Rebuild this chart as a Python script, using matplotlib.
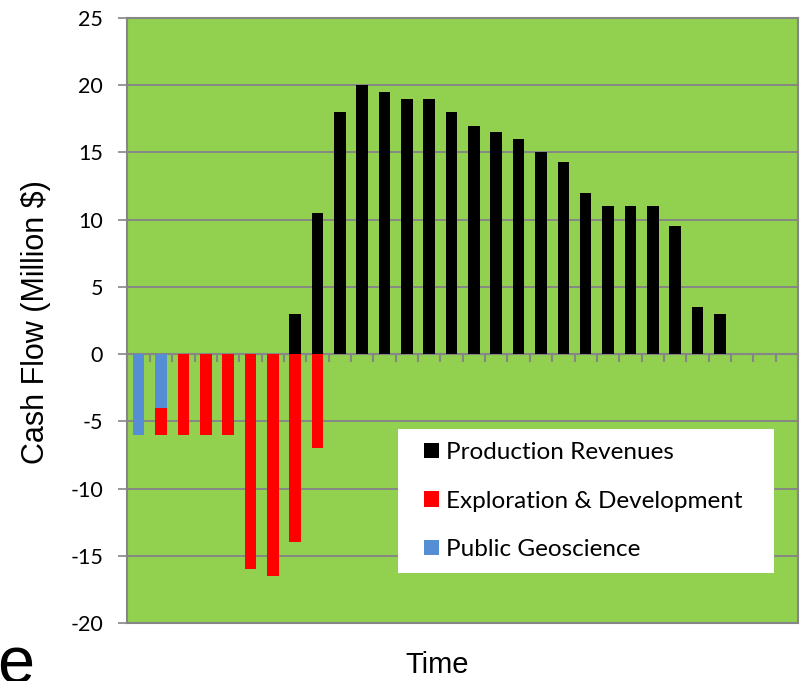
import matplotlib
matplotlib.use("Agg")
import matplotlib.pyplot as plt
from matplotlib.patches import Patch, Rectangle
import numpy as np

plt.rcParams["axes.unicode_minus"] = False

# Cash flow per period (million $)
periods = np.arange(1, 31)
public_geoscience = [-6, -4] + [0] * 28
exploration_development = [0, -2, -6, -6, -6, -16, -16.5, -14, -7] + [0] * 21
production_revenues = [0, 0, 0, 0, 0, 0, 0, 3, 10.5, 18, 20, 19.5, 19, 19, 18,
                       17, 16.5, 16, 15, 14.3, 12, 11, 11, 11, 9.5, 3.5, 3, 0, 0, 0]
y_ticks = [-20, -15, -10, -5, 0, 5, 10, 15, 20, 25]
series_labels = ["Production Revenues", "Exploration & Development", "Public Geoscience"]

GREEN = "#92D050"
GREY = "#868686"
BLUE = "#558ED5"
RED = "#FF0000"
BLACK = "#000000"

W, H = 800, 681
fig = plt.figure(figsize=(W / 100, H / 100), dpi=100)
left, right, top, bottom = 127.5, 798, 18, 623
ax = fig.add_axes([left / W, 1 - bottom / H, (right - left) / W, (bottom - top) / H])
ax.set_facecolor(GREEN)

bw = 0.52
ax.bar(periods, public_geoscience, width=bw, color=BLUE, zorder=3)
ax.bar(periods, exploration_development, width=bw, bottom=public_geoscience,
       color=RED, zorder=3)
ax.bar(periods, production_revenues, width=bw, color=BLACK, zorder=3)

ax.set_xlim(0.5, 30.5)
ax.set_ylim(-20, 25)
ax.set_yticks(y_ticks)
ax.set_yticklabels([str(v) for v in y_ticks], fontfamily="Lato", fontsize=15.5)
ax.yaxis.grid(True, color=GREY, linewidth=1.4, zorder=1)
ax.set_axisbelow(True)
ax.tick_params(axis="y", direction="out", length=6.5, width=1.2, color=GREY, pad=11)

# category axis crosses at zero
ax.spines["bottom"].set_position(("data", 0))
ax.set_xticks(np.arange(0.5, 31.5, 1))
ax.set_xticklabels([])
ax.tick_params(axis="x", direction="out", length=6, width=1.5, color=GREY)
for side in ["left", "right", "top", "bottom"]:
    ax.spines[side].set_color(GREY)
    ax.spines[side].set_linewidth(1.5)
ax.axhline(-20, color=GREY, linewidth=1.5, zorder=4, clip_on=False)

# legend panel: white box with the key set inside it
def ax_x(px):
    return (px - left) / (right - left)

def ax_y(py):
    return (bottom - py) / (bottom - top)

box_l, box_r, box_t, box_b = 398, 774, 429, 573
ax.add_patch(Rectangle((ax_x(box_l), ax_y(box_b)), ax_x(box_r) - ax_x(box_l),
                       ax_y(box_t) - ax_y(box_b), transform=ax.transAxes,
                       facecolor="white", edgecolor="none", zorder=5))
handles = [Patch(facecolor=BLACK), Patch(facecolor=RED), Patch(facecolor=BLUE)]
leg = ax.legend(handles, series_labels, loc="center left",
                bbox_to_anchor=(ax_x(424), ax_y(501)),
                prop={"family": "Lato", "size": 17.5}, frameon=False,
                handlelength=0.62, handleheight=0.62, handletextpad=0.3,
                labelspacing=1.13, borderpad=0, borderaxespad=0)
leg.set_zorder(6)

fig.text(36 / W, 1 - 322 / H, "Cash Flow (Million $)", rotation=90,
         ha="center", va="center", fontfamily="Liberation Sans", fontsize=22)
fig.text(437 / W, 1 - 665 / H, "Time", ha="center", va="center",
         fontfamily="Liberation Sans", fontsize=21)

# slide text running past the figure edges
fig.text(-3 / W, -3 / H, "e", ha="left", va="baseline",
         fontfamily="Liberation Sans", fontsize=48)
fig.text(616 / W, 1 + 11.5 / H, "p", ha="left", va="baseline",
         fontfamily="Liberation Sans", fontweight="bold", fontsize=40)

fig.savefig("out.png", dpi=100)
